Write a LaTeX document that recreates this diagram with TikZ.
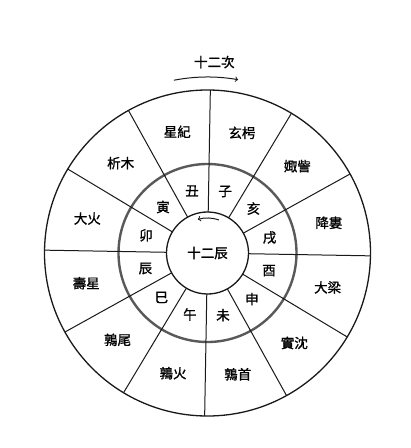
\documentclass[tikz,border=0pt]{standalone}
\usepackage{fontspec}
\newfontfamily\cjk[FakeBold=1.2]{Noto Sans CJK TC}
\tikzset{every path/.style={black!90}, every node/.style={black, font=\cjk\fontsize{13.5}{14}\selectfont, inner sep=1pt},
  rim/.style={line width=1.3pt}, band/.style={line width=2.4pt, black!65}, spoke/.style={line width=1pt}}

\begin{document}
\begin{tikzpicture}[x=1pt,y=1pt]
   \useasboundingbox (-207.5,-195) rectangle (203.5,253);
   \begin{scope}[rotate=-1]
    % rings
    \draw[rim]  (0,0) circle[radius=163];
    \draw[band] (0,0) circle[radius=89];
    \draw[rim]  (0,0) circle[radius=41];
    % spokes, every 30 degrees
    \draw[spoke] (  0:41) -- (  0:163);
    \draw[spoke] ( 30:41) -- ( 30:163);
    \draw[spoke] ( 60:41) -- ( 60:163);
    \draw[spoke] ( 90:41) -- ( 90:163);
    \draw[spoke] (120:41) -- (120:163);
    \draw[spoke] (150:41) -- (150:163);
    \draw[spoke] (180:41) -- (180:163);
    \draw[spoke] (210:41) -- (210:163);
    \draw[spoke] (240:41) -- (240:163);
    \draw[spoke] (270:41) -- (270:163);
    \draw[spoke] (300:41) -- (300:163);
    \draw[spoke] (330:41) -- (330:163);
    % outer ring: the twelve ci
    \node (xingji)   at (105:125) {星紀};
    \node (xuanxiao) at ( 75:125) {玄枵};
    \node (juzi)     at ( 45:125) {娵訾};
    \node (jianglou) at ( 15:125) {降婁};
    \node (daliang)  at (-15:125) {大梁};
    \node (shichen)  at (-45:125) {實沈};
    \node (chunshou) at (-75:125) {鶉首};
    \node (chunhuo)  at (255:125) {鶉火};
    \node (chunwei)  at (225:125) {鶉尾};
    \node (shouxing) at (195:125) {壽星};
    \node (dahuo)    at (165:125) {大火};
    \node (ximu)     at (135:125) {析木};
    % middle ring: the twelve branches
    \node (zi)   at ( 75:64) {子};
    \node (chou) at (105:64) {丑};
    \node (yin)  at (135:64) {寅};
    \node (mao)  at (165:64) {卯};
    \node (chen) at (195:64) {辰};
    \node (si)   at (225:64) {巳};
    \node (wu)   at (255:64) {午};
    \node (wei)  at (285:64) {未};
    \node (shen) at (315:64) {申};
    \node (you)  at (345:64) {酉};
    \node (xu)   at ( 15:64) {戌};
    \node (hai)  at ( 45:64) {亥};
    % centre and the two senses of motion
    \node (chenname) at (0,0) {十二辰};
    \draw[spoke,->] (72:35) arc[start angle=72, end angle=107, radius=35];
    \draw[spoke,->] (102:176) arc[start angle=102, end angle=81, radius=176];
    \node (ciname) at (3.5,191) {十二次};
   \end{scope}
\end{tikzpicture}
\end{document}
